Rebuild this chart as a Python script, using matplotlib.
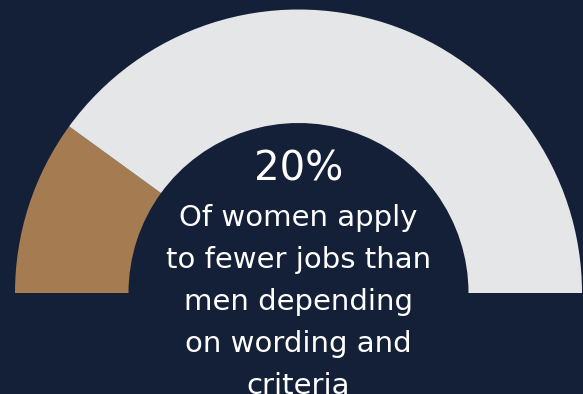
import matplotlib
matplotlib.use("Agg")
import matplotlib.pyplot as plt

# gauge data: share of women vs rest, plus hidden lower half
labels = ["Women", "Rest", ""]
values = [20, 80, 100]
colors = ["#a57c52", "#e4e6e8", "none"]

headline = "20%"
caption_lines = ["Of women apply", "to fewer jobs than", "men depending",
                 "on wording and", "criteria"]

bg = "#141f38"
W, H = 583, 394

fig = plt.figure(figsize=(W / 100, H / 100), dpi=100, facecolor=bg)
ax = fig.add_axes([0, 0, 1, 1])
ax.set_facecolor(bg)

cx, cy = 298.5, 293
r_out, r_in = 283.5, 170

# y axis runs downward, so counterclockwise in data = clockwise on screen
ax.pie(values, colors=colors, startangle=180, counterclock=True,
       center=(cx, cy), radius=r_out, frame=True,
       wedgeprops=dict(width=r_out - r_in, linewidth=0))
ax.set_xlim(0, W)
ax.set_ylim(H, 0)
ax.set_aspect("equal")
ax.axis("off")

font = ["DejaVu Sans"]
ax.text(cx, 180, headline, color="white", fontsize=29, family=font,
        ha="center", va="baseline")
for i, line in enumerate(caption_lines):
    ax.text(cx, 226 + 42 * i, line, color="white", fontsize=21, family=font,
            ha="center", va="baseline")

fig.savefig("out.png", dpi=100, facecolor=bg)
